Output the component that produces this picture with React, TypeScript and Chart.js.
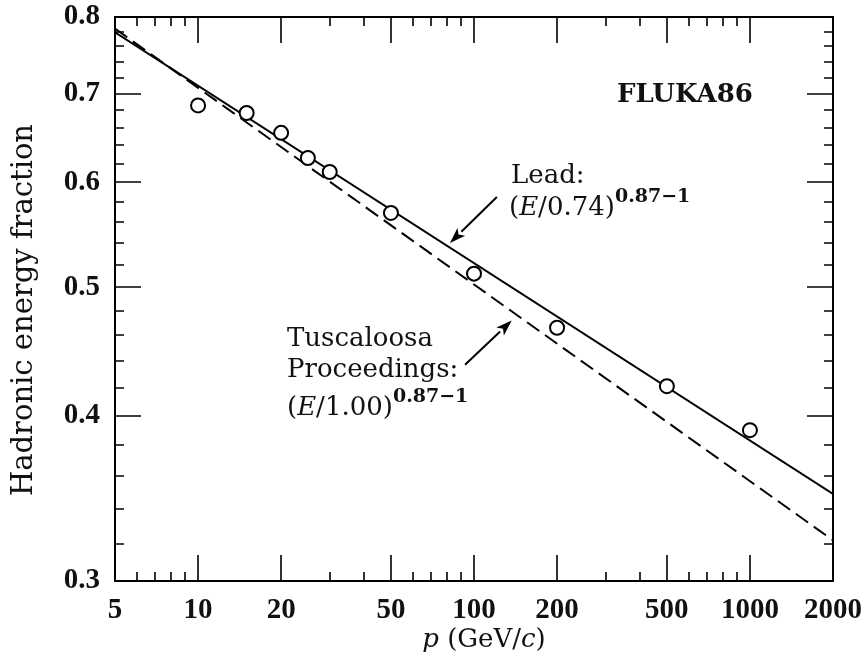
import React, { useEffect, useRef } from 'react';
import { Chart, registerables } from 'chart.js';

Chart.register(...registerables);

// ---- data ----
const momenta = [10, 15, 20, 25, 30, 50, 100, 200, 500, 1000];
const flukaFraction = [0.686, 0.677, 0.654, 0.626, 0.611, 0.569, 0.512, 0.466, 0.421, 0.39];

const leadLineP = [5, 2000];
const leadLineF = [0.779, 0.349];
const tuscLineP = [5, 2000];
const tuscLineF = [0.784, 0.322];

const xMajorTicks = [5, 10, 20, 50, 100, 200, 500, 1000, 2000];
const xMinorTicks = [6, 7, 8, 9, 30, 40, 60, 70, 80, 90, 300, 400, 600, 700, 800, 900];
const yMajorTicks = [0.3, 0.4, 0.5, 0.6, 0.7, 0.8];
const yMinorTicks = [
  0.32, 0.34, 0.36, 0.38, 0.42, 0.44, 0.46, 0.48, 0.52, 0.54, 0.56, 0.58,
  0.62, 0.64, 0.66, 0.68, 0.72, 0.74, 0.76, 0.78,
];

// annotation anchors in data coordinates (p, fraction)
const leadArrowTail = [121, 0.585];
const leadArrowTip = [81.8, 0.54];
const tuscArrowTail = [92.8, 0.437];
const tuscArrowTip = [137, 0.472];

const SERIF = '"DejaVu Serif", "Liberation Serif", serif';
const TIMES = '"Liberation Serif", "DejaVu Serif", serif';

type Run = { t: string; f: string; dy?: number };

function drawRuns(ctx: CanvasRenderingContext2D, x: number, y: number, runs: Run[], align: 'left' | 'center' = 'left') {
  let total = 0;
  for (const r of runs) {
    ctx.font = r.f;
    total += ctx.measureText(r.t).width;
  }
  let cx = align === 'center' ? x - total / 2 : x;
  ctx.textAlign = 'left';
  ctx.textBaseline = 'alphabetic';
  for (const r of runs) {
    ctx.font = r.f;
    ctx.fillText(r.t, cx, y + (r.dy || 0));
    cx += ctx.measureText(r.t).width;
  }
}

function drawArrow(ctx: CanvasRenderingContext2D, x1: number, y1: number, x2: number, y2: number) {
  const ang = Math.atan2(y2 - y1, x2 - x1);
  const hl = 16;
  const hw = 5.5;
  const bx = x2 - hl * Math.cos(ang);
  const by = y2 - hl * Math.sin(ang);
  ctx.beginPath();
  ctx.moveTo(x1, y1);
  ctx.lineTo(bx, by);
  ctx.lineWidth = 2;
  ctx.stroke();
  ctx.beginPath();
  ctx.moveTo(x2, y2);
  ctx.lineTo(bx + hw * Math.sin(ang), by - hw * Math.cos(ang));
  ctx.lineTo(bx + 4 * Math.cos(ang), by + 4 * Math.sin(ang));
  ctx.lineTo(bx - hw * Math.sin(ang), by + hw * Math.cos(ang));
  ctx.closePath();
  ctx.fill();
}

const framePlugin = {
  id: 'framePlugin',
  afterDraw(chart: any) {
    const { ctx, chartArea: a, scales } = chart;
    const xs = scales.x;
    const ys = scales.y;
    ctx.save();
    ctx.strokeStyle = '#000';
    ctx.fillStyle = '#000';
    // frame
    ctx.lineWidth = 2;
    ctx.strokeRect(a.left, a.top, a.right - a.left, a.bottom - a.top);
    // ticks
    ctx.lineWidth = 1.6;
    const majorLen = 26;
    const minorLen = 9;
    const xt = (v: number, len: number) => {
      const px = Math.round(xs.getPixelForValue(v));
      ctx.beginPath();
      ctx.moveTo(px, a.bottom);
      ctx.lineTo(px, a.bottom - len);
      ctx.moveTo(px, a.top);
      ctx.lineTo(px, a.top + len);
      ctx.stroke();
    };
    const yt = (v: number, len: number) => {
      const py = Math.round(ys.getPixelForValue(v));
      ctx.beginPath();
      ctx.moveTo(a.left, py);
      ctx.lineTo(a.left + len, py);
      ctx.moveTo(a.right, py);
      ctx.lineTo(a.right - len, py);
      ctx.stroke();
    };
    xMajorTicks.forEach((v) => xt(v, majorLen));
    xMinorTicks.forEach((v) => xt(v, minorLen));
    yMajorTicks.forEach((v) => yt(v, majorLen));
    yMinorTicks.forEach((v) => yt(v, minorLen));

    // arrows
    const P = (d: number[]) => [xs.getPixelForValue(d[0]), ys.getPixelForValue(d[1])];
    const lt = P(leadArrowTail), lh = P(leadArrowTip);
    drawArrow(ctx, lt[0], lt[1], lh[0], lh[1]);
    const tt = P(tuscArrowTail), th = P(tuscArrowTip);
    drawArrow(ctx, tt[0], tt[1], th[0], th[1]);

    // annotations
    ctx.fillStyle = '#111';
    const reg = `26px ${SERIF}`;
    const ital = `italic 26px ${SERIF}`;
    const sup = `bold 19px ${SERIF}`;
    drawRuns(ctx, a.left + 502, a.top + 85, [{ t: 'FLUKA86', f: `bold 26px ${SERIF}` }]);
    drawRuns(ctx, a.left + 396, a.top + 166, [{ t: 'Lead:', f: reg }]);
    drawRuns(ctx, a.left + 394, a.top + 198, [
      { t: '(', f: reg },
      { t: 'E', f: ital },
      { t: '/0.74)', f: reg },
      { t: '0.87\u22121', f: sup, dy: -13 },
    ]);
    drawRuns(ctx, a.left + 172, a.top + 329, [{ t: 'Tuscaloosa', f: reg }]);
    drawRuns(ctx, a.left + 172, a.top + 360, [{ t: 'Proceedings:', f: reg }]);
    drawRuns(ctx, a.left + 172, a.top + 398, [
      { t: '(', f: reg },
      { t: 'E', f: ital },
      { t: '/1.00)', f: reg },
      { t: '0.87\u22121', f: sup, dy: -13 },
    ]);

    // axis titles
    drawRuns(ctx, (a.left + a.right) / 2 + 10, 647, [
      { t: 'p', f: `italic 26px ${SERIF}` },
      { t: ' (GeV/', f: `26px ${SERIF}` },
      { t: 'c', f: `italic 26px ${SERIF}` },
      { t: ')', f: `26px ${SERIF}` },
    ], 'center');
    ctx.save();
    ctx.translate(24, (a.top + a.bottom) / 2 + 11);
    ctx.rotate(-Math.PI / 2);
    ctx.font = `29px ${SERIF}`;
    ctx.textAlign = 'center';
    ctx.textBaseline = 'middle';
    ctx.fillText('Hadronic energy fraction', 0, 0);
    ctx.restore();

    ctx.restore();
  },
};

export default function App() {
  const ref = useRef<HTMLCanvasElement>(null);
  useEffect(() => {
    const tickFont = { family: TIMES, weight: 'bold' as const, size: 29 };
    const chart = new Chart(ref.current as HTMLCanvasElement, {
      type: 'scatter',
      data: {
        datasets: [
          {
            label: 'FLUKA86',
            data: momenta.map((p, i) => ({ x: p, y: flukaFraction[i] })),
            showLine: false,
            pointRadius: 7,
            pointBorderWidth: 2,
            pointBackgroundColor: '#fff',
            pointBorderColor: '#000',
            order: 0,
          },
          {
            label: 'Lead',
            data: leadLineP.map((p, i) => ({ x: p, y: leadLineF[i] })),
            showLine: true,
            borderColor: '#000',
            borderWidth: 2,
            pointRadius: 0,
            fill: false,
            order: 1,
          },
          {
            label: 'Tuscaloosa',
            data: tuscLineP.map((p, i) => ({ x: p, y: tuscLineF[i] })),
            showLine: true,
            borderColor: '#000',
            borderWidth: 2,
            borderDash: [15, 7],
            pointRadius: 0,
            fill: false,
            order: 2,
          },
        ],
      },
      options: {
        animation: false,
        responsive: true,
        maintainAspectRatio: false,
        devicePixelRatio: 1,
        layout: { padding: { top: 17, right: 34, left: 0, bottom: 0 } },
        plugins: { legend: { display: false }, tooltip: { enabled: false } },
        scales: {
          x: {
            type: 'logarithmic',
            min: 5,
            max: 2000,
            grid: { display: false, drawTicks: false },
            border: { display: false },
            ticks: {
              font: tickFont,
              color: '#111',
              padding: 12,
              autoSkip: false,
              maxRotation: 0,
              minRotation: 0,
              callback: (v: any) => String(v),
            },
            afterBuildTicks: (s: any) => {
              s.ticks = xMajorTicks.map((v) => ({ value: v }));
            },
            afterFit: (s: any) => {
              s.height = 86;
              s.paddingLeft = 0;
              s.paddingRight = 0;
              s.paddingTop = 0;
              s.paddingBottom = 0;
            },
          },
          y: {
            type: 'logarithmic',
            min: 0.3,
            max: 0.8,
            grid: { display: false, drawTicks: false },
            border: { display: false },
            ticks: {
              font: tickFont,
              color: '#111',
              padding: 15,
              autoSkip: false,
              callback: (v: any) => Number(v).toFixed(1),
            },
            afterBuildTicks: (s: any) => {
              s.ticks = yMajorTicks.map((v) => ({ value: v }));
            },
            afterFit: (s: any) => {
              s.width = 115;
              s.paddingLeft = 0;
              s.paddingRight = 0;
              s.paddingTop = 0;
              s.paddingBottom = 0;
            },
          },
        },
      } as any,
      plugins: [framePlugin],
    });
    return () => chart.destroy();
  }, []);
  return (
    <div style={{ position: 'fixed', left: 0, top: 0, width: 867, height: 667, background: '#fff' }}>
      <canvas ref={ref} />
    </div>
  );
}
